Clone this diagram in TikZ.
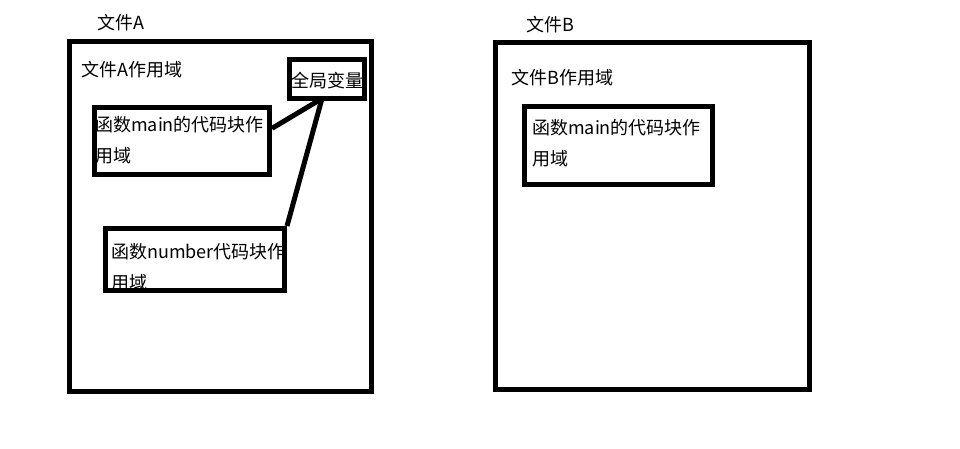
\documentclass[tikz,border=0pt]{standalone}
\usepackage{fontspec}
\setmainfont{Noto Sans CJK SC}
\usetikzlibrary{positioning}

\begin{document}
\begin{tikzpicture}[x=1pt, y=-1pt,
  scopebox/.style={draw, line width=5pt, inner sep=0pt},
  txt/.style={font=\fontsize{18}{31}\selectfont, inner sep=0pt,
              anchor=base west, align=left},
  link/.style={line width=5pt}
]
\useasboundingbox (0,0) rectangle (960,449);

%% Labels (multi-line ones sit on their last baseline)
\node[txt] (nameA)  at (97,30)   {文件A};
\node[txt] (nameB)  at (526,32)  {文件B};
\node[txt] (rangeA) at (81,77)   {文件A作用域};
\node[txt] (rangeB) at (511,85)  {文件B作用域};
\node[txt] (globT)  at (291,88)  {全局变量};
\node[txt] (mainAT) at (95,163)  {函数main的代码块作\\用域};
\node[txt] (numAT)  at (111,289) {函数number代码块作\\用域};
\node[txt] (mainBT) at (532,165) {函数main的代码块作\\用域};

%% Boxes
\node[scopebox, minimum width=302pt, minimum height=350pt]   (fileA) at (220.5,216.5)  {};
\node[scopebox, minimum width=313.5pt, minimum height=346.5pt] (fileB) at (652.25,215.75) {};
\node[scopebox, minimum width=75pt, minimum height=39pt]     (glob)  at (327,79)     {};
\node[scopebox, minimum width=175pt, minimum height=67pt]    (mainA) at (182,141)    {};
\node[scopebox, minimum width=179pt, minimum height=62pt]    (numA)  at (195,259.5)  {};
\node[scopebox, minimum width=188pt, minimum height=78pt]    (mainB) at (618.5,145.5) {};

%% Links to the global variables
\coordinate (hub) at (322,98.5);
\draw[link] (mainA.8) -- (hub);
\draw[link] (numA.north east) -- (hub);

\end{tikzpicture}
\end{document}
